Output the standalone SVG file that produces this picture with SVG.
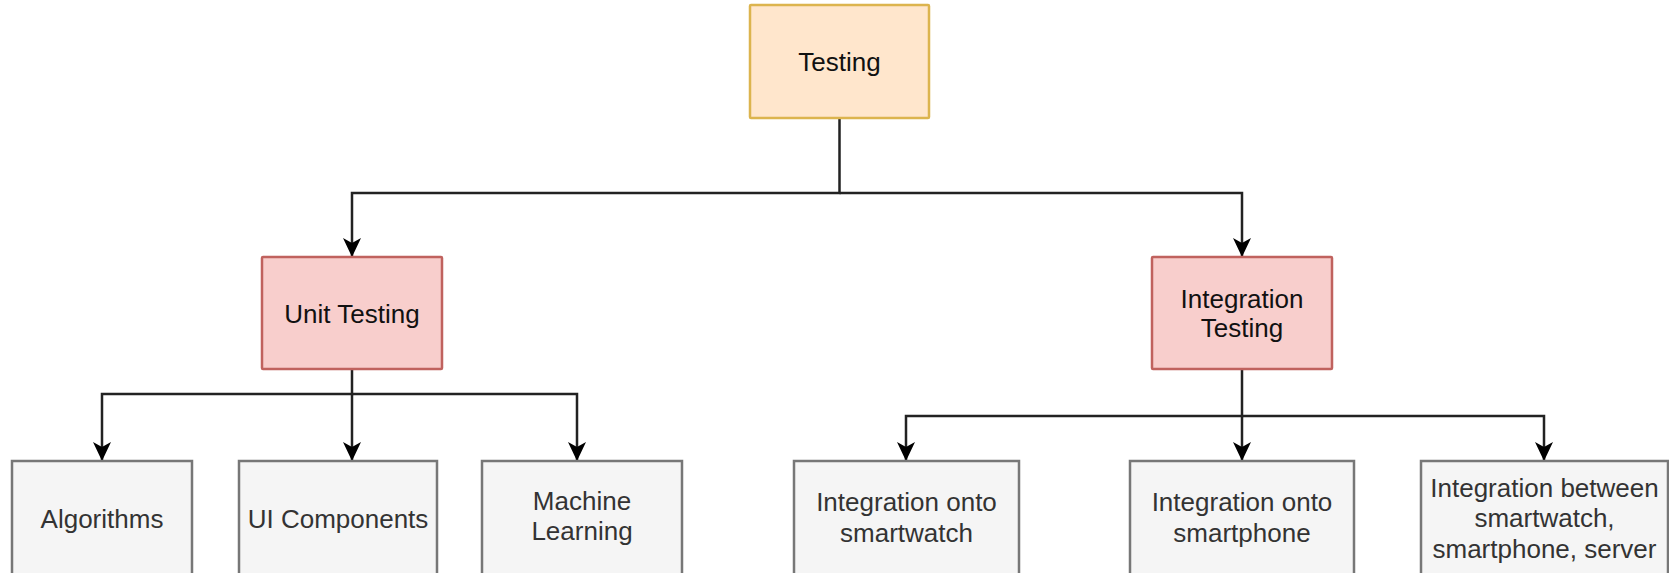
<svg xmlns="http://www.w3.org/2000/svg" width="1669" height="573" viewBox="0 0 1669 573">
<style>
  .lbl { font-family: "Liberation Sans", Arial, sans-serif; font-size: 26px; text-anchor: middle; }
  .dark { fill: #111; }
  .gray { fill: #333; }
  .root { fill: #ffe6cc; stroke: #dcb44e; stroke-width: 2.5; }
  .mid { fill: #f8cecc; stroke: #c0625e; stroke-width: 2.5; }
  .leaf { fill: #f5f5f5; stroke: #777; stroke-width: 2.5; }
  .edge { fill: none; stroke: #222; stroke-width: 2.5; }
</style>
<defs>
  <marker id="arr" markerUnits="userSpaceOnUse" markerWidth="22" markerHeight="22" viewBox="-20 -11 22 22" refX="0" refY="0" orient="auto">
    <path d="M0,0 L-19,-9 L-14,0 L-19,9 Z" fill="#000"/>
  </marker>
</defs>
<rect width="1669" height="573" fill="#fff"/>
<g id="connectors">
  <path class="edge" d="M839.5,118 V193 H352 V257" marker-end="url(#arr)"/>
  <path class="edge" d="M839.5,193 H1242 V257" marker-end="url(#arr)"/>
  <path class="edge" d="M352,369 V394 H102 V461" marker-end="url(#arr)"/>
  <path class="edge" d="M352,394 V461" marker-end="url(#arr)"/>
  <path class="edge" d="M352,394 H577 V461" marker-end="url(#arr)"/>
  <path class="edge" d="M1242,369 V416 H906 V461" marker-end="url(#arr)"/>
  <path class="edge" d="M1242,416 V461" marker-end="url(#arr)"/>
  <path class="edge" d="M1242,416 H1544 V461" marker-end="url(#arr)"/>
</g>
<g id="testing">
  <rect class="root" x="750" y="5" width="179" height="113" rx="1"/>
  <text class="lbl dark" x="839.5" y="71">Testing</text>
</g>
<g id="unit-testing">
  <rect class="mid" x="262" y="257" width="180" height="112" rx="1"/>
  <text class="lbl dark" x="352" y="323">Unit Testing</text>
</g>
<g id="integration-testing">
  <rect class="mid" x="1152" y="257" width="180" height="112" rx="1"/>
  <text class="lbl dark" x="1242" y="308">Integration</text>
  <text class="lbl dark" x="1242" y="337">Testing</text>
</g>
<g id="algorithms">
  <rect class="leaf" x="12" y="461" width="180" height="120"/>
  <text class="lbl gray" x="102" y="528">Algorithms</text>
</g>
<g id="ui-components">
  <rect class="leaf" x="239" y="461" width="198" height="120"/>
  <text class="lbl gray" x="338" y="528">UI Components</text>
</g>
<g id="machine-learning">
  <rect class="leaf" x="482" y="461" width="200" height="120"/>
  <text class="lbl gray" x="582" y="510">Machine</text>
  <text class="lbl gray" x="582" y="540">Learning</text>
</g>
<g id="onto-smartwatch">
  <rect class="leaf" x="794" y="461" width="225" height="120"/>
  <text class="lbl gray" x="906.5" y="511">Integration onto</text>
  <text class="lbl gray" x="906.5" y="542">smartwatch</text>
</g>
<g id="onto-smartphone">
  <rect class="leaf" x="1130" y="461" width="224" height="120"/>
  <text class="lbl gray" x="1242" y="511">Integration onto</text>
  <text class="lbl gray" x="1242" y="542">smartphone</text>
</g>
<g id="between">
  <rect class="leaf" x="1421" y="461" width="247" height="120"/>
  <text class="lbl gray" x="1544.5" y="497">Integration between</text>
  <text class="lbl gray" x="1544.5" y="527">smartwatch,</text>
  <text class="lbl gray" x="1544.5" y="558">smartphone, server</text>
</g>
</svg>
